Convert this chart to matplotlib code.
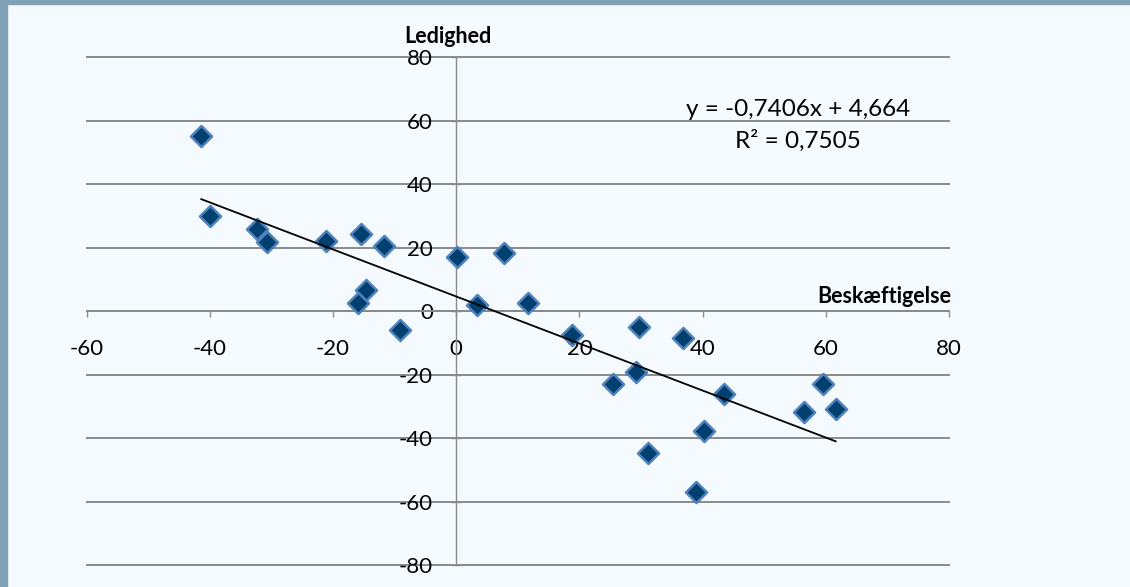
import matplotlib
matplotlib.use("Agg")
import matplotlib.pyplot as plt
from matplotlib.patches import Rectangle
import numpy as np

plt.rcParams['font.family'] = ['Lato', 'DejaVu Sans']
plt.rcParams['axes.unicode_minus'] = False

# Beskæftigelse (x) vs. Ledighed (y)
beskaeftigelse = [-41.4, -40.0, -32.4, -30.8, -21.1, -15.5, -11.7, 0.2, -14.7, -16.0,
                  -9.2, 3.4, 7.8, 11.7, 18.8, 29.7, 36.8, 29.2, 25.5, 43.5,
                  31.2, 40.2, 38.9, 56.4, 59.5, 61.6]
ledighed = [55.3, 30.0, 25.9, 21.7, 22.1, 24.3, 20.6, 17.2, 6.7, 2.5,
            -5.9, 1.9, 18.3, 2.5, -7.5, -5.0, -8.5, -19.2, -22.9, -26.0,
            -44.7, -37.6, -57.0, -31.6, -22.9, -30.9]

# trendline as printed on the chart
slope = -0.7406
intercept = 4.664
r2 = 0.7505

x_ticks = [-60, -40, -20, 0, 20, 40, 60, 80]
y_ticks = [-80, -60, -40, -20, 0, 20, 40, 60, 80]

bg = '#f5fafe'
frame = '#7fa2b7'
grid_col = '#8a8a8a'

fig = plt.figure(figsize=(11.3, 5.87), dpi=100, facecolor=bg)
fig.patches.append(Rectangle((0, 1 - 4 / 587), 1, 4 / 587, transform=fig.transFigure,
                             color=frame, zorder=0))
fig.patches.append(Rectangle((0, 0), 7 / 1130, 1, transform=fig.transFigure,
                             color=frame, zorder=0))

ax = fig.add_axes([86.7 / 1130, (587 - 565.3) / 587, (949 - 86.7) / 1130, (565.3 - 57.3) / 587])
ax.set_facecolor(bg)
ax.set_xlim(-60, 80)
ax.set_ylim(-80, 80)
ax.set_xticks(x_ticks)
ax.set_yticks(y_ticks)

for side in ['top', 'right']:
    ax.spines[side].set_visible(False)
ax.spines['left'].set_position(('data', 0))
ax.spines['bottom'].set_position(('data', 0))
ax.spines['left'].set_color(grid_col)
ax.spines['left'].set_linewidth(1.0)
ax.spines['bottom'].set_color(grid_col)
ax.spines['bottom'].set_linewidth(1.4)

ax.grid(axis='y', color=grid_col, linewidth=1.4)
ax.set_axisbelow(True)
for gl in ax.get_ygridlines():
    gl.set_clip_on(False)

ax.tick_params(axis='y', direction='inout', length=6.5, width=1.0, color=grid_col,
               pad=13.5, labelsize=16)
ax.tick_params(axis='x', direction='out', length=4.5, width=1.0, color=grid_col,
               pad=15.5, labelsize=16)

ax.scatter(beskaeftigelse, ledighed, marker='D', s=115, facecolor='#003f6e',
           edgecolor='#4f81bd', linewidth=1.8, zorder=3, clip_on=False)

xs = np.array([min(beskaeftigelse), max(beskaeftigelse)])
ax.plot(xs, slope * xs + intercept, color='black', linewidth=1.3, zorder=4)

eq = 'y = {}x + {}'.format(str(slope).replace('.', ','), str(intercept).replace('.', ','))
ax.text(55.5, 61.5, eq, ha='center', va='baseline', fontsize=17.5)
ax.text(55.5, 51.4, 'R² = ' + str(r2).replace('.', ','), ha='center', va='baseline',
        fontsize=17.5)

ax.text(-1.4, 84.5, 'Ledighed', ha='center', va='baseline', fontsize=15.5,
        fontweight='bold', clip_on=False)
ax.text(80.3, 2.5, 'Beskæftigelse', ha='right', va='baseline', fontsize=15.5,
        fontweight='bold', clip_on=False)

fig.savefig('out.png', dpi=100, facecolor=bg)
